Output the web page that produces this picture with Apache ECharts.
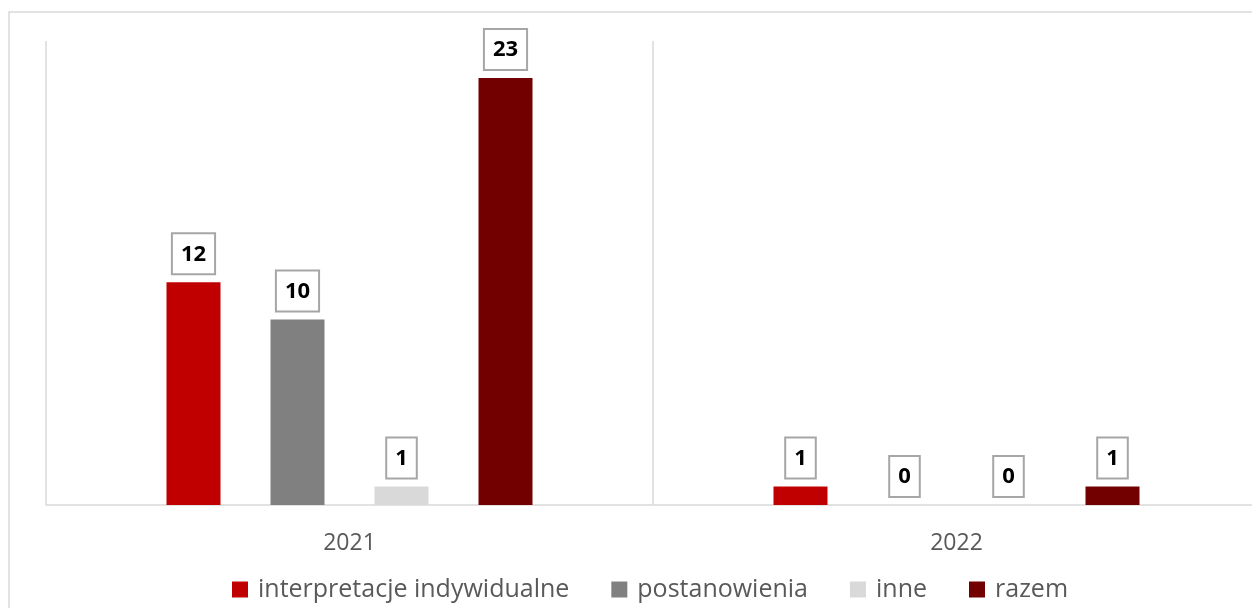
<!DOCTYPE html>
<html>
<head>
<meta charset="utf-8">
<script src="https://cdn.jsdelivr.net/npm/echarts@6/dist/echarts.min.js"></script>
<style>
  html, body { margin: 0; padding: 0; background: #fff; }
  #container { width: 1252px; height: 608px; }
</style>
</head>
<body>
<div id="container"></div>
<script>
var years = ['2021', '2022'];
var seriesNames = ['interpretacje indywidualne', 'postanowienia', 'inne', 'razem'];
var interpretacje = [12, 1];
var postanowienia = [10, 0];
var inne = [1, 0];
var razem = [23, 1];
var colors = ['#c00000', '#808080', '#d9d9d9', '#720000'];

var dom = document.getElementById('container');
var myChart = echarts.init(dom);
var font = '"Open Sans", "Liberation Sans", sans-serif';

function makeSeries(name, data, color) {
    return {
        name: name,
        type: 'bar',
        data: data,
        barWidth: 54,
        barGap: '92.6%',
        itemStyle: { color: color },
        label: {
            show: true,
            position: 'top',
            distance: 9,
            color: '#000',
            fontFamily: font,
            fontWeight: 'bold',
            fontSize: 22,
            lineHeight: 22,
            backgroundColor: '#fff',
            borderColor: '#a6a6a6',
            borderWidth: 2,
            padding: [9, 8, 8, 8]
        }
    };
}

var option = {
    animation: false,
    graphic: [{
        type: 'rect',
        shape: { x: 9, y: 12, width: 1400, height: 800 },
        style: { fill: 'none', stroke: '#d9d9d9', lineWidth: 1.5 },
        silent: true
    }],
    legend: {
        data: seriesNames,
        top: 572,
        left: 227,
        icon: 'rect',
        itemWidth: 16,
        itemHeight: 16,
        itemGap: 42,
        textStyle: { color: '#595959', fontSize: 25, fontFamily: font, padding: [0, 0, 0, 5] }
    },
    grid: { left: 46, top: 41, width: 1214, height: 464, outerBoundsMode: 'none', containLabel: false },
    xAxis: {
        type: 'category',
        data: years,
        axisTick: { show: false },
        axisLine: { lineStyle: { color: '#d9d9d9', width: 1.5 } },
        axisLabel: { color: '#595959', fontSize: 23, fontFamily: font, margin: 27 },
        splitLine: { show: true, lineStyle: { color: '#d9d9d9', width: 1.5 } }
    },
    yAxis: {
        type: 'value',
        min: 0,
        max: 25,
        show: false
    },
    series: [
        makeSeries(seriesNames[0], interpretacje, colors[0]),
        makeSeries(seriesNames[1], postanowienia, colors[1]),
        makeSeries(seriesNames[2], inne, colors[2]),
        makeSeries(seriesNames[3], razem, colors[3])
    ]
};
myChart.setOption(option);
</script>
</body>
</html>
